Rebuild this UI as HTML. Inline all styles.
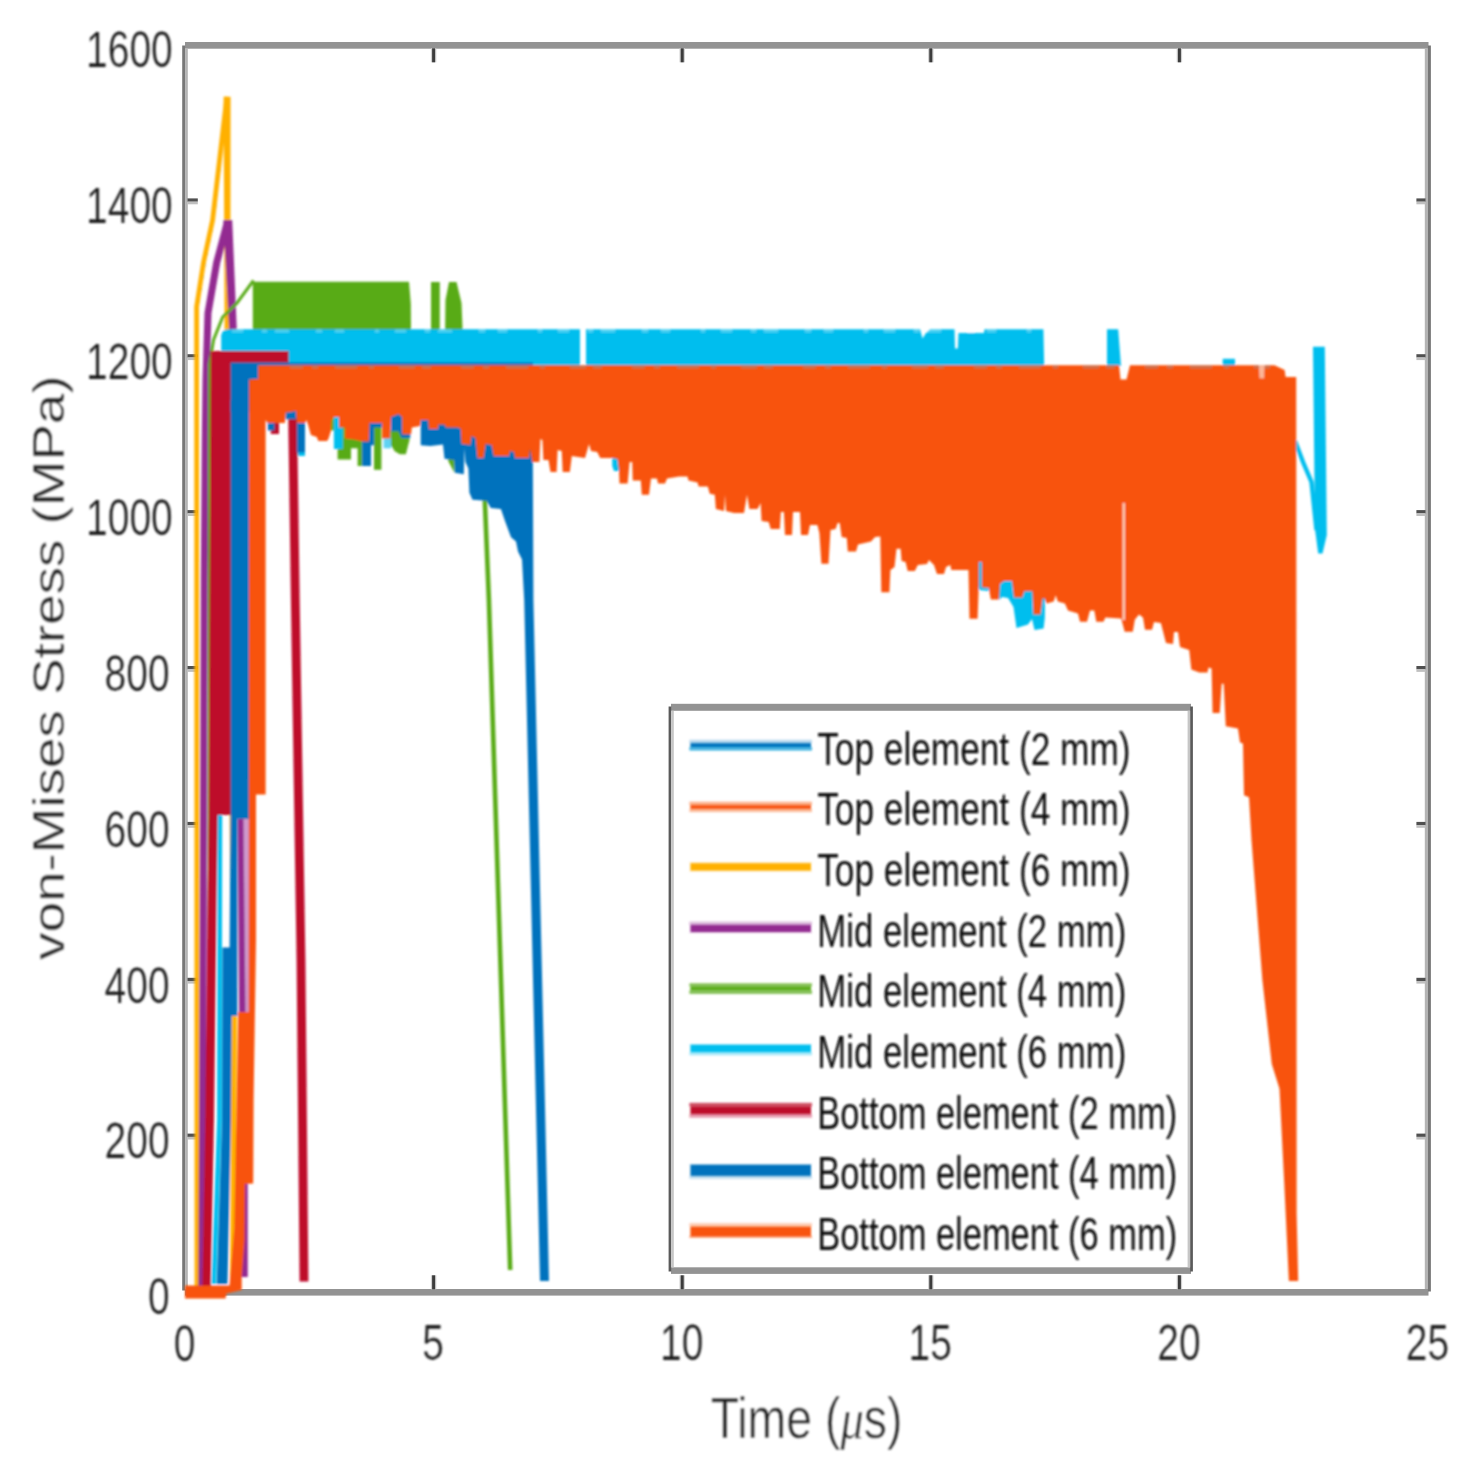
<!DOCTYPE html>
<html lang="en">
<head>
<meta charset="utf-8">
<title>von-Mises Stress vs Time</title>
<style>
html,body{margin:0;padding:0;background:#fff;}
body{width:1482px;height:1479px;overflow:hidden;}
svg{display:block;}
text{font-family:"Liberation Sans", sans-serif;}
</style>
</head>
<body>
<svg width="1482" height="1479" viewBox="0 0 1482 1479">
<defs><filter id="soft" x="-5%" y="-20%" width="110%" height="140%"><feGaussianBlur stdDeviation="0.8"/></filter><filter id="soft2" x="-2%" y="-2%" width="104%" height="104%"><feGaussianBlur stdDeviation="0.8"/></filter></defs>
<rect x="0" y="0" width="1482" height="1479" fill="#ffffff"/>
<g id="axes"><rect x="185" y="42" width="1243.5" height="6.7" fill="#939393"/><rect x="185" y="1289" width="1243.5" height="6.6" fill="#939393"/><rect x="182.2" y="45.5" width="2.9" height="1245" fill="#787878"/><rect x="185.1" y="48" width="2.7" height="1241" fill="#b4b4b4"/><rect x="1424.8" y="48" width="3.1" height="1241" fill="#b4b4b4"/><rect x="1427.9" y="45.5" width="3.0" height="1246" fill="#787878"/><rect x="430.9" y="1275.3" width="5.4" height="14.0" fill="#d0d0d0"/><rect x="432.1" y="1275.3" width="3.0" height="14.0" fill="#3c3c3c"/><rect x="430.9" y="48.3" width="5.4" height="14.0" fill="#d0d0d0"/><rect x="432.1" y="48.3" width="3.0" height="14.0" fill="#3c3c3c"/><rect x="679.5" y="1275.3" width="5.4" height="14.0" fill="#d0d0d0"/><rect x="680.7" y="1275.3" width="3.0" height="14.0" fill="#3c3c3c"/><rect x="679.5" y="48.3" width="5.4" height="14.0" fill="#d0d0d0"/><rect x="680.7" y="48.3" width="3.0" height="14.0" fill="#3c3c3c"/><rect x="928.1" y="1275.3" width="5.4" height="14.0" fill="#d0d0d0"/><rect x="929.3" y="1275.3" width="3.0" height="14.0" fill="#3c3c3c"/><rect x="928.1" y="48.3" width="5.4" height="14.0" fill="#d0d0d0"/><rect x="929.3" y="48.3" width="3.0" height="14.0" fill="#3c3c3c"/><rect x="1176.7" y="1275.3" width="5.4" height="14.0" fill="#d0d0d0"/><rect x="1177.9" y="1275.3" width="3.0" height="14.0" fill="#3c3c3c"/><rect x="1176.7" y="48.3" width="5.4" height="14.0" fill="#d0d0d0"/><rect x="1177.9" y="48.3" width="3.0" height="14.0" fill="#3c3c3c"/><rect x="187.5" y="1133.6" width="10.3" height="3.3" fill="#505050"/><rect x="187.5" y="1136.9" width="10.3" height="2.6" fill="#c0c0c0"/><rect x="1416.4" y="1133.6" width="9.1" height="3.3" fill="#505050"/><rect x="1416.4" y="1136.9" width="9.1" height="2.6" fill="#c0c0c0"/><rect x="187.5" y="977.8" width="10.3" height="3.3" fill="#505050"/><rect x="187.5" y="981.0" width="10.3" height="2.6" fill="#c0c0c0"/><rect x="1416.4" y="977.8" width="9.1" height="3.3" fill="#505050"/><rect x="1416.4" y="981.0" width="9.1" height="2.6" fill="#c0c0c0"/><rect x="187.5" y="821.9" width="10.3" height="3.3" fill="#505050"/><rect x="187.5" y="825.2" width="10.3" height="2.6" fill="#c0c0c0"/><rect x="1416.4" y="821.9" width="9.1" height="3.3" fill="#505050"/><rect x="1416.4" y="825.2" width="9.1" height="2.6" fill="#c0c0c0"/><rect x="187.5" y="666.0" width="10.3" height="3.3" fill="#505050"/><rect x="187.5" y="669.3" width="10.3" height="2.6" fill="#c0c0c0"/><rect x="1416.4" y="666.0" width="9.1" height="3.3" fill="#505050"/><rect x="1416.4" y="669.3" width="9.1" height="2.6" fill="#c0c0c0"/><rect x="187.5" y="510.1" width="10.3" height="3.3" fill="#505050"/><rect x="187.5" y="513.4" width="10.3" height="2.6" fill="#c0c0c0"/><rect x="1416.4" y="510.1" width="9.1" height="3.3" fill="#505050"/><rect x="1416.4" y="513.4" width="9.1" height="2.6" fill="#c0c0c0"/><rect x="187.5" y="354.2" width="10.3" height="3.3" fill="#505050"/><rect x="187.5" y="357.5" width="10.3" height="2.6" fill="#c0c0c0"/><rect x="1416.4" y="354.2" width="9.1" height="3.3" fill="#505050"/><rect x="1416.4" y="357.5" width="9.1" height="2.6" fill="#c0c0c0"/><rect x="187.5" y="198.4" width="10.3" height="3.3" fill="#505050"/><rect x="187.5" y="201.7" width="10.3" height="2.6" fill="#c0c0c0"/><rect x="1416.4" y="198.4" width="9.1" height="3.3" fill="#505050"/><rect x="1416.4" y="201.7" width="9.1" height="2.6" fill="#c0c0c0"/></g>
<g id="series" filter="url(#soft2)">
<path d="M197.5,1286.0 L197.5,310.0 L204.5,264.0 L213.5,221.0 L225.0,120.0" fill="none" stroke="#0072BD" stroke-width="2.0" stroke-linejoin="miter" stroke-linecap="butt" stroke-dasharray="3 9"/>
<path d="M197.0,1287.0 L196.6,307.0 L203.5,262.6 L212.6,220.0 L226.9,96.8" fill="none" stroke="#FFB000" stroke-width="4.8" stroke-linejoin="miter" stroke-linecap="butt" stroke-linejoin="bevel"/>
<path d="M223.6,96.8 L230.6,96.8 L230.4,331.0 L237.0,1016.0 L235.0,1284.0 L230.0,1284.0 L231.6,1016.0 L224.6,331.0Z" fill="#FFB000"/>
<path d="M201.8,1287.0 L202.5,1120.0 L204.3,580.0 L205.3,440.0 L206.0,380.0 L208.0,313.0 L216.7,262.6 L227.6,221.5" fill="none" stroke="#932A91" stroke-width="7.0" stroke-linejoin="miter" stroke-linecap="butt" stroke-linejoin="bevel"/>
<path d="M223.4,220.0 L232.2,220.0 L236.8,330.0 L245.6,819.0 L247.8,1200.0 L247.8,1277.0 L240.6,1277.0 L240.6,1200.0 L237.6,819.0 L229.2,330.0Z" fill="#932A91"/>
<path d="M243.5,819.0 L249.0,819.0 L249.0,1012.0 L245.5,1012.0Z" fill="#cf9acd"/>
<path d="M208.8,1286.0 L209.6,364.0 L213.6,339.6 L222.7,317.0 L237.0,303.0 L253.5,280.5" fill="none" stroke="#58AB18" stroke-width="3.0" stroke-linejoin="miter" stroke-linecap="butt"/>
<path d="M252.8,281.8 L409.0,281.8 L410.8,304.0 L411.0,335.0 L411.0,400.0 L252.8,400.0Z" fill="#58AB18"/>
<rect x="330.9" y="405.0" width="3.7" height="25.5" fill="#58AB18"/>
<path d="M337.6,405.0 L337.6,459.4 L351.0,459.4 L351.0,448.3 L357.6,448.3 L357.6,466.0 L362.1,466.0 L362.1,405.0Z" fill="#58AB18"/>
<rect x="374.0" y="405.0" width="7.4" height="64.8" fill="#58AB18"/>
<path d="M391.0,405.0 L391.0,445.3 L394.7,451.3 L399.9,454.2 L405.9,454.2 L409.6,439.4 L409.6,405.0Z" fill="#58AB18"/>
<rect x="431.0" y="282.0" width="8.8" height="58.0" fill="#58AB18"/>
<path d="M445.5,300.0 L449.0,282.0 L456.5,282.0 L461.5,303.0 L463.0,340.0 L445.0,340.0Z" fill="#58AB18"/>
<path d="M448.2,440.0 L454.5,440.0 L454.5,473.0 L448.2,461.0Z" fill="#58AB18"/>
<path d="M484.4,490.0 L488.9,600.0 L510.2,1270.0" fill="none" stroke="#58AB18" stroke-width="4.6" stroke-linejoin="miter" stroke-linecap="butt"/>
<path d="M213.8,1284.0 L219.4,1120.0 L219.9,815.0 L220.0,352.0" fill="none" stroke="#00BEEE" stroke-width="4.6" stroke-linejoin="miter" stroke-linecap="butt"/>
<path d="M221.2,366.0 L221.2,335.0 L223.0,331.0 L227.0,329.3 L580.0,329.3 L580.0,366.0Z" fill="#00BEEE"/>
<path d="M586.0,366.0 L586.0,329.3 L920.0,329.3 L922.5,338.5 L926.0,333.0 L930.0,329.3 L954.5,329.3 L955.0,348.5 L957.8,348.5 L958.5,333.0 L984.0,333.0 L984.5,329.3 L1043.4,329.3 L1044.2,366.0Z" fill="#00BEEE"/>
<path d="M1107.0,366.0 L1107.0,329.3 L1118.2,329.3 L1121.0,366.0Z" fill="#00BEEE"/>
<path d="M232,330.8 L1043,330.8" fill="none" stroke="#ffffff" stroke-opacity="0.3" stroke-width="3.2" stroke-dasharray="11 19 5 8 14 27 6 13 9 31 4 16"/>
<rect x="1222.7" y="358.8" width="12.3" height="7.2" fill="#00BEEE"/>
<rect x="333.9" y="405.0" width="8.9" height="44.0" fill="#00BEEE"/>
<rect x="383.6" y="430.0" width="7.4" height="18.3" fill="#5fd2f3"/>
<rect x="297.5" y="440.0" width="7.5" height="16.0" fill="#00BEEE"/>
<path d="M612.2,450.0 L619.8,450.0 L619.8,471.0 L614.0,471.0 L612.2,466.0Z" fill="#00BEEE"/>
<path d="M978.6,561.5 L981.8,561.5 L983.0,586.0 L989.0,588.0 L989.0,591.0 L979.0,590.0Z" fill="#00BEEE"/>
<path d="M999.0,580.0 L1045.2,580.0 L1044.8,618.0 L1043.6,628.5 L1034.5,630.0 L1032.0,619.0 L1028.0,624.5 L1016.5,628.0 L1013.5,607.0 L1008.0,598.0 L1002.0,597.0 L999.0,600.0Z" fill="#00BEEE"/>
<path d="M1295.0,441.0 L1303.0,462.0 L1311.5,482.0 L1316.5,530.0" fill="none" stroke="#00BEEE" stroke-width="4.4" stroke-linejoin="miter" stroke-linecap="butt"/>
<path d="M1313.0,346.8 L1324.8,346.8 L1326.8,535.0 L1322.5,553.5 L1318.2,553.5 L1315.0,529.0Z" fill="#00BEEE"/>
<path d="M202.4,1286.0 L205.2,1120.0 L208.6,815.0 L210.6,351.0 L288.6,351.0 L288.6,363.5 L231.0,363.5 L231.0,815.0 L217.6,815.0 L214.0,1120.0 L210.7,1286.0Z" fill="#BE0C2C"/>
<path d="M270.8,410.0 L279.0,410.0 L279.0,434.0 L270.8,434.0Z" fill="#BE0C2C"/>
<path d="M292.0,405.0 L292.7,420.0 L295.3,600.0 L301.0,960.0 L304.0,1281.5" fill="none" stroke="#BE0C2C" stroke-width="8.8" stroke-linejoin="miter" stroke-linecap="butt"/>
<path d="M230.6,362.6 L533.0,362.6 L533.0,412.0 L230.6,412.0Z" fill="#0072BD"/>
<path d="M230.6,400.0 L249.4,400.0 L249.4,819.0 L237.4,819.0 L237.4,1016.0 L231.7,1016.0 L231.0,1120.0 L227.5,1284.0 L216.7,1284.0 L222.0,1120.0 L222.4,947.6 L229.6,947.6 L230.6,815.0Z" fill="#0072BD"/>
<rect x="267.8" y="405.0" width="6.7" height="25.5" fill="#0072BD"/>
<rect x="285.6" y="405.0" width="10.9" height="14.3" fill="#0072BD"/>
<rect x="296.8" y="405.0" width="8.2" height="47.5" fill="#0072BD"/>
<path d="M362.1,405.0 L362.1,466.0 L371.0,466.0 L371.0,445.3 L374.0,445.3 L374.0,427.5 L382.1,427.5 L382.1,405.0Z" fill="#0072BD"/>
<path d="M391.0,405.0 L391.0,431.2 L398.5,431.2 L401.4,437.9 L410.3,437.9 L410.3,430.0 L402.2,430.0 L402.2,405.0Z" fill="#0072BD"/>
<path d="M420.7,405.0 L420.7,445.3 L430.4,446.0 L443.0,444.6 L444.5,458.7 L454.1,460.0 L454.9,472.8 L463.8,474.3 L464.5,448.3 L465.4,462.0 L468.4,468.4 L469.4,492.7 L472.5,499.8 L486.7,500.8 L490.7,508.0 L500.9,509.0 L505.0,521.0 L511.0,537.3 L516.0,541.4 L518.0,551.5 L522.0,559.6 L524.2,600.0 L540.0,1281.0 L549.0,1281.0 L533.4,600.0 L532.6,405.0Z" fill="#0072BD"/>
<path d="M265.6,794.6 L265.6,420.0 L267.8,423.0 L279.7,423.0 L284.9,423.0 L285.6,412.7 L296.0,411.0 L296.8,423.0 L305.0,423.0 L306.4,420.0 L308.0,424.5 L310.9,435.0 L316.8,437.0 L318.3,440.9 L327.2,440.9 L328.7,437.9 L330.9,431.0 L331.6,420.0 L333.9,417.0 L339.0,417.0 L339.0,427.5 L345.0,427.5 L345.0,438.6 L353.9,439.4 L362.8,441.6 L368.8,441.6 L369.5,423.0 L382.1,423.0 L382.1,438.6 L390.3,438.6 L391.0,417.0 L398.5,414.0 L402.2,417.0 L402.2,434.2 L411.1,434.2 L411.8,427.5 L420.0,426.0 L420.7,420.0 L428.1,420.0 L428.9,429.0 L437.8,429.0 L438.5,424.5 L444.5,424.5 L446.0,427.5 L457.8,427.5 L460.8,429.0 L461.5,443.8 L470.4,445.0 L471.4,436.0 L475.5,438.0 L477.5,458.0 L483.6,458.0 L485.6,444.0 L491.7,445.0 L493.8,456.0 L509.0,456.0 L510.0,451.0 L514.0,452.0 L515.0,458.0 L529.0,458.0 L530.0,449.0 L532.3,462.0 L539.4,462.0 L540.4,439.0 L542.4,440.0 L543.4,460.0 L548.5,460.0 L550.5,472.0 L556.6,472.0 L557.6,450.0 L561.7,451.0 L562.7,472.0 L569.8,472.0 L571.8,456.0 L578.0,457.0 L585.0,458.0 L587.0,451.0 L589.0,444.0 L591.0,451.0 L597.2,452.0 L600.2,458.0 L612.4,458.0 L617.5,459.0 L619.0,470.0 L619.5,483.6 L627.6,483.6 L629.6,462.0 L632.2,462.0 L632.7,480.5 L640.8,480.5 L641.8,494.7 L649.0,494.7 L651.0,478.5 L657.0,478.5 L658.0,483.6 L665.0,483.6 L667.0,478.5 L679.3,476.5 L687.5,476.5 L688.5,480.5 L697.6,482.6 L698.6,486.6 L707.8,486.6 L709.8,493.7 L714.8,494.7 L715.9,509.0 L724.0,511.0 L725.0,494.7 L726.0,511.0 L734.0,513.0 L744.0,513.0 L747.0,494.7 L749.4,509.0 L757.5,509.0 L760.6,503.0 L761.6,521.0 L768.7,522.0 L770.7,529.0 L779.8,529.0 L780.9,512.0 L783.9,512.0 L785.0,535.0 L792.0,535.0 L793.0,512.0 L800.0,512.0 L801.0,535.0 L808.0,535.0 L810.0,525.0 L817.4,525.0 L819.4,533.0 L821.4,563.7 L828.5,563.7 L830.5,530.0 L835.6,529.0 L837.6,523.0 L839.7,523.0 L841.7,537.0 L846.8,538.0 L847.8,551.5 L856.0,551.5 L858.0,544.4 L871.0,541.4 L875.0,537.0 L880.3,536.5 L881.3,592.3 L889.4,592.3 L890.4,570.0 L894.5,567.0 L896.5,548.7 L900.6,548.7 L901.6,561.0 L905.6,562.0 L907.7,571.0 L914.8,571.0 L917.8,565.0 L927.0,564.0 L929.0,560.0 L934.0,565.0 L937.0,574.0 L944.0,574.0 L946.0,567.0 L950.3,565.0 L951.3,570.0 L968.5,570.0 L969.5,618.7 L977.6,618.7 L978.7,587.0 L988.8,588.0 L990.8,599.4 L999.0,599.4 L1000.0,584.0 L1004.0,581.0 L1012.0,581.0 L1014.0,597.4 L1022.3,597.4 L1024.3,591.3 L1032.4,591.3 L1033.4,614.6 L1040.5,614.6 L1042.6,598.4 L1044.6,598.4 L1046.6,603.4 L1053.7,601.4 L1055.7,595.3 L1057.8,601.4 L1064.9,603.4 L1068.0,610.5 L1078.0,613.6 L1080.0,621.7 L1087.0,621.7 L1090.0,610.5 L1094.3,610.5 L1096.3,621.7 L1103.4,621.7 L1105.4,617.6 L1121.2,618.6 L1124.7,631.8 L1132.8,631.8 L1134.8,619.7 L1139.0,614.6 L1143.0,617.6 L1145.0,629.8 L1152.0,629.8 L1154.0,622.0 L1160.9,622.9 L1166.0,643.0 L1173.0,644.0 L1174.0,632.0 L1178.0,632.0 L1180.0,647.0 L1189.2,650.0 L1191.3,669.5 L1199.4,672.6 L1207.5,672.6 L1208.5,667.5 L1211.6,668.5 L1212.6,713.0 L1219.7,713.0 L1221.7,683.7 L1223.7,683.7 L1225.8,726.3 L1238.0,728.4 L1240.0,742.6 L1243.0,743.6 L1244.0,795.3 L1249.0,797.3 L1251.5,840.0 L1262.4,980.0 L1271.8,1064.0 L1279.5,1088.8 L1284.2,1182.0 L1288.9,1281.0 L1298.2,1281.0 L1296.6,1213.0 L1296.2,377.0 L1285.6,377.0 L1284.6,370.0 L1274.4,365.3 L1264.5,365.3 L1263.5,378.0 L1260.0,378.0 L1259.0,365.3 L1130.0,365.3 L1126.5,379.5 L1120.5,379.5 L1119.0,365.3 L258.2,365.3 L258.2,379.0 L249.2,379.5 L248.6,1012.0 L238.2,1012.0 L236.3,1120.0 L234.3,1228.0 L229.5,1285.5 L185.0,1285.5 L185.0,1298.6 L225.5,1298.6 L226.5,1293.5 L241.7,1290.0 L241.7,1277.0 L244.6,1240.0 L245.0,1184.0 L253.2,1183.6 L253.6,1100.0 L256.0,940.0 L256.0,794.6Z" fill="#F8520B"/>
<path d="M290,367 L1270,367" fill="none" stroke="#a98a86" stroke-opacity="0.55" stroke-width="3.2" stroke-dasharray="13 9 6 17 22 12 5 25 16 7 9 30"/>
<rect x="1122.6" y="503.0" width="2.3" height="117.0" fill="#fbd3bd"/>
<rect x="978.8" y="562.0" width="3.0" height="26.5" fill="#00BEEE"/>
<rect x="1259.4" y="365.0" width="4.8" height="13.4" fill="#fbb597"/>
</g>
<g id="legendbox"><rect x="671.5" y="707.3" width="519" height="563.4" fill="#ffffff"/><rect x="671" y="703.8" width="520" height="7" fill="#939393"/><rect x="671" y="1267.3" width="520" height="6.6" fill="#939393"/><rect x="668.6" y="706.5" width="2.6" height="565" fill="#5a5a5a"/><rect x="671.2" y="710.8" width="2.6" height="556.5" fill="#c6c6c6"/><rect x="1187.6" y="710.8" width="2.6" height="556.5" fill="#c6c6c6"/><rect x="1190.2" y="706.5" width="2.7" height="565" fill="#5a5a5a"/></g>
<g id="legendlines" filter="url(#soft2)"><rect x="690.4" y="743.1" width="120.6" height="4.0" fill="#0072BD"/><rect x="689.4" y="739.8" width="122.6" height="3.3" fill="#0072BD" opacity="0.28"/><rect x="689.4" y="747.1" width="122.6" height="3.4" fill="#0d9fd9" opacity="0.80"/><rect x="690.4" y="805.1" width="120.6" height="3.8" fill="#F8520B"/><rect x="689.4" y="801.7" width="122.6" height="3.4" fill="#F8520B" opacity="0.45"/><rect x="689.4" y="808.9" width="122.6" height="3.2" fill="#F8520B" opacity="0.40"/><rect x="690.4" y="863.2" width="120.6" height="7.4" fill="#FFB000"/><rect x="689.4" y="862.4" width="122.6" height="0.8" fill="#FFB000" opacity="0.40"/><rect x="689.4" y="870.6" width="122.6" height="0.8" fill="#FFB000" opacity="0.40"/><rect x="690.4" y="924.9" width="120.6" height="7.2" fill="#932A91"/><rect x="689.4" y="921.7" width="122.6" height="3.2" fill="#932A91" opacity="0.35"/><rect x="689.4" y="932.1" width="122.6" height="0.6" fill="#932A91" opacity="0.40"/><rect x="690.4" y="986.4" width="120.6" height="4.0" fill="#58AB18"/><rect x="689.4" y="983.3" width="122.6" height="3.1" fill="#58AB18" opacity="0.75"/><rect x="689.4" y="990.4" width="122.6" height="3.5" fill="#58AB18" opacity="0.75"/><rect x="690.4" y="1044.7" width="120.6" height="7.5" fill="#00BEEE"/><rect x="689.4" y="1044.1" width="122.6" height="0.6" fill="#00BEEE" opacity="0.40"/><rect x="689.4" y="1052.2" width="122.6" height="3.1" fill="#00BEEE" opacity="0.35"/><rect x="690.4" y="1106.4" width="120.6" height="7.7" fill="#BE0C2C"/><rect x="689.4" y="1102.9" width="122.6" height="3.5" fill="#BE0C2C" opacity="0.75"/><rect x="689.4" y="1114.1" width="122.6" height="3.6" fill="#BE0C2C" opacity="0.40"/><rect x="690.4" y="1164.7" width="120.6" height="11.2" fill="#0072BD"/><rect x="689.4" y="1164.1" width="122.6" height="0.6" fill="#0072BD" opacity="0.40"/><rect x="689.4" y="1175.9" width="122.6" height="3.0" fill="#0072BD" opacity="0.25"/><rect x="690.4" y="1226.6" width="120.6" height="9.5" fill="#F8520B"/><rect x="689.4" y="1223.1" width="122.6" height="3.5" fill="#F8520B" opacity="0.30"/><rect x="689.4" y="1236.1" width="122.6" height="1.6" fill="#F8520B" opacity="0.70"/></g>
<g id="labels" filter="url(#soft)"><text transform="translate(817.20 764.60) scale(0.8810 1.1500)" font-size="40.00" text-anchor="start" fill="#101010">Top element (2 mm)</text>
<text transform="translate(817.20 825.25) scale(0.8810 1.1500)" font-size="40.00" text-anchor="start" fill="#101010">Top element (4 mm)</text>
<text transform="translate(817.20 885.90) scale(0.8810 1.1500)" font-size="40.00" text-anchor="start" fill="#101010">Top element (6 mm)</text>
<text transform="translate(817.20 946.55) scale(0.8696 1.1500)" font-size="40.00" text-anchor="start" fill="#101010">Mid element (2 mm)</text>
<text transform="translate(817.20 1007.20) scale(0.8696 1.1500)" font-size="40.00" text-anchor="start" fill="#101010">Mid element (4 mm)</text>
<text transform="translate(817.20 1067.85) scale(0.8696 1.1500)" font-size="40.00" text-anchor="start" fill="#101010">Mid element (6 mm)</text>
<text transform="translate(817.20 1128.50) scale(0.8618 1.1500)" font-size="40.00" text-anchor="start" fill="#101010">Bottom element (2 mm)</text>
<text transform="translate(817.20 1189.15) scale(0.8618 1.1500)" font-size="40.00" text-anchor="start" fill="#101010">Bottom element (4 mm)</text>
<text transform="translate(817.20 1249.80) scale(0.8618 1.1500)" font-size="40.00" text-anchor="start" fill="#101010">Bottom element (6 mm)</text>
<text transform="translate(184.50 1360.50) scale(0.9750 1.2325)" font-size="40.00" text-anchor="middle" fill="#1c1c1c" stroke="#ffffff" stroke-width="0.15">0</text>
<text transform="translate(433.10 1360.50) scale(0.9750 1.2325)" font-size="40.00" text-anchor="middle" fill="#1c1c1c" stroke="#ffffff" stroke-width="0.15">5</text>
<text transform="translate(681.70 1360.50) scale(0.9750 1.2325)" font-size="40.00" text-anchor="middle" fill="#1c1c1c" stroke="#ffffff" stroke-width="0.15">10</text>
<text transform="translate(930.30 1360.50) scale(0.9750 1.2325)" font-size="40.00" text-anchor="middle" fill="#1c1c1c" stroke="#ffffff" stroke-width="0.15">15</text>
<text transform="translate(1178.90 1360.50) scale(0.9750 1.2325)" font-size="40.00" text-anchor="middle" fill="#1c1c1c" stroke="#ffffff" stroke-width="0.15">20</text>
<text transform="translate(1427.50 1360.50) scale(0.9750 1.2325)" font-size="40.00" text-anchor="middle" fill="#1c1c1c" stroke="#ffffff" stroke-width="0.15">25</text>
<text transform="translate(169.60 1314.30) scale(0.9750 1.2325)" font-size="40.00" text-anchor="end" fill="#1c1c1c" stroke="#ffffff" stroke-width="0.15">0</text>
<text transform="translate(169.60 1158.42) scale(0.9750 1.2325)" font-size="40.00" text-anchor="end" fill="#1c1c1c" stroke="#ffffff" stroke-width="0.15">200</text>
<text transform="translate(169.60 1002.55) scale(0.9750 1.2325)" font-size="40.00" text-anchor="end" fill="#1c1c1c" stroke="#ffffff" stroke-width="0.15">400</text>
<text transform="translate(169.60 846.67) scale(0.9750 1.2325)" font-size="40.00" text-anchor="end" fill="#1c1c1c" stroke="#ffffff" stroke-width="0.15">600</text>
<text transform="translate(169.60 690.80) scale(0.9750 1.2325)" font-size="40.00" text-anchor="end" fill="#1c1c1c" stroke="#ffffff" stroke-width="0.15">800</text>
<text transform="translate(172.80 534.92) scale(0.9750 1.2325)" font-size="40.00" text-anchor="end" fill="#1c1c1c" stroke="#ffffff" stroke-width="0.15">1000</text>
<text transform="translate(172.80 379.05) scale(0.9750 1.2325)" font-size="40.00" text-anchor="end" fill="#1c1c1c" stroke="#ffffff" stroke-width="0.15">1200</text>
<text transform="translate(172.80 223.17) scale(0.9750 1.2325)" font-size="40.00" text-anchor="end" fill="#1c1c1c" stroke="#ffffff" stroke-width="0.15">1400</text>
<text transform="translate(172.80 67.30) scale(0.9750 1.2325)" font-size="40.00" text-anchor="end" fill="#1c1c1c" stroke="#ffffff" stroke-width="0.15">1600</text>
<text transform="translate(806.50 1437.50) scale(1.1603 1.4300)" font-size="40.00" text-anchor="middle" fill="#1c1c1c" stroke="#ffffff" stroke-width="0.35">Time (<tspan font-style="italic" font-family="'Liberation Serif', serif">μ</tspan>s)</text>
<text transform="translate(63.60 667.60) rotate(-90) scale(1.3700 1.1230)" font-size="40.00" text-anchor="middle" fill="#1c1c1c" stroke="#ffffff" stroke-width="0.35">von-Mises Stress (MPa)</text></g>
</svg>
</body>
</html>
